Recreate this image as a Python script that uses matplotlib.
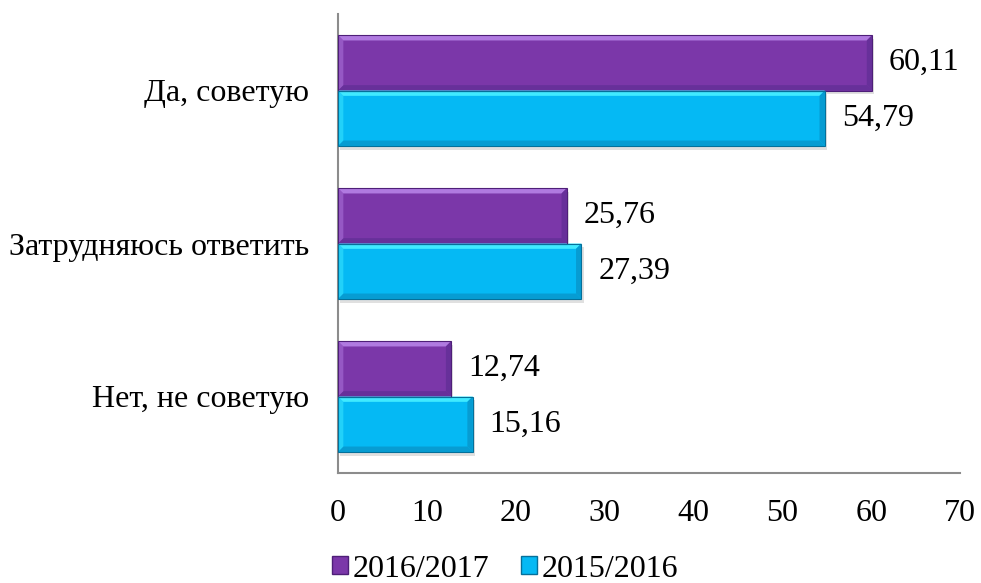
import numpy as np
import matplotlib.pyplot as plt
from matplotlib.patches import Polygon, Rectangle

categories = ['Нет, не советую', 'Затрудняюсь ответить', 'Да, советую']
series_names = ['2016/2017', '2015/2016']
vals_2016_2017 = [12.74, 25.76, 60.11]
vals_2015_2016 = [15.16, 27.39, 54.79]
xticks = [0, 10, 20, 30, 40, 50, 60, 70]

# colours: main, light (top bevel), dark (right/bottom bevel), outline
purple = ('#7B37A9', '#B07AE0', '#67309A', '#4E1F78')
cyan = ('#05B9F4', '#40EAFF', '#079CD2', '#05709A')

plt.rcParams['font.family'] = ['Liberation Serif', 'DejaVu Serif']
FS = 23

fig = plt.figure(figsize=(9.81, 5.83), dpi=100)
ax = fig.add_axes([338 / 981, 1 - 473 / 583, (960 - 338) / 981, (473 - 14) / 583])

y = np.arange(len(categories))
h = 0.362


def bevel(ax, bar, cols):
    # fake Excel "bevel" look on top of a plain bar
    x0, y0 = bar.get_x(), bar.get_y()
    w, hh = bar.get_width(), bar.get_height()
    dx, dy = 0.6, 0.035
    # drop shadow
    ax.add_patch(Rectangle((x0 + 0.25, y0 - 0.025), w, hh, color='#000000',
                           alpha=0.12, zorder=1, lw=0))
    top = Polygon([(x0, y0 + hh), (x0 + w, y0 + hh), (x0 + w - dx, y0 + hh - dy),
                   (x0 + dx, y0 + hh - dy)], color=cols[1], zorder=3, lw=0)
    bot = Polygon([(x0, y0), (x0 + w, y0), (x0 + w - dx, y0 + dy),
                   (x0 + dx, y0 + dy)], color=cols[2], zorder=3, lw=0)
    right = Polygon([(x0 + w, y0), (x0 + w, y0 + hh), (x0 + w - dx, y0 + hh - dy),
                     (x0 + w - dx, y0 + dy)], color=cols[2], zorder=3, lw=0)
    left = Polygon([(x0, y0), (x0, y0 + hh), (x0 + dx, y0 + hh - dy),
                    (x0 + dx, y0 + dy)], color=cols[1], alpha=0.5, zorder=3, lw=0)
    for p in (top, bot, right, left):
        ax.add_patch(p)
    ax.add_patch(Rectangle((x0, y0), w, hh, fill=False, ec=cols[3], lw=0.8, zorder=4))


bars1 = ax.barh(y + h / 2, vals_2016_2017, height=h, color=purple[0], zorder=2,
                label=series_names[0])
bars2 = ax.barh(y - h / 2, vals_2015_2016, height=h, color=cyan[0], zorder=2,
                label=series_names[1])

for bars, cols, vals in ((bars1, purple, vals_2016_2017), (bars2, cyan, vals_2015_2016)):
    for b, v in zip(bars, vals):
        bevel(ax, b, cols)
        ax.text(v + 1.9, b.get_y() + b.get_height() / 2, f'{v:.2f}'.replace('.', ','),
                va='center', ha='left', fontsize=FS)

ax.set_xlim(0, 70)
ax.set_ylim(-0.5, 2.5)
ax.set_xticks(xticks)
ax.set_yticks(y)
ax.set_yticklabels(categories)
ax.tick_params(axis='both', length=0, labelsize=FS)
ax.tick_params(axis='x', pad=19)
ax.tick_params(axis='y', pad=21)

for s in ['top', 'right']:
    ax.spines[s].set_visible(False)
for s in ['left', 'bottom']:
    ax.spines[s].set_color('#8C8C8C')
    ax.spines[s].set_linewidth(1.5)

leg = fig.legend(handles=[bars1, bars2], labels=series_names, loc='center',
                 bbox_to_anchor=(0.515, 0.024), ncol=2, frameon=False, fontsize=FS,
                 handlelength=0.5, handleheight=0.5, handletextpad=0.15,
                 columnspacing=1.0, borderpad=0)
for hdl, cols in zip(leg.legend_handles, (purple, cyan)):
    hdl.set_edgecolor(cols[3])

fig.savefig('out.png', dpi=100)
